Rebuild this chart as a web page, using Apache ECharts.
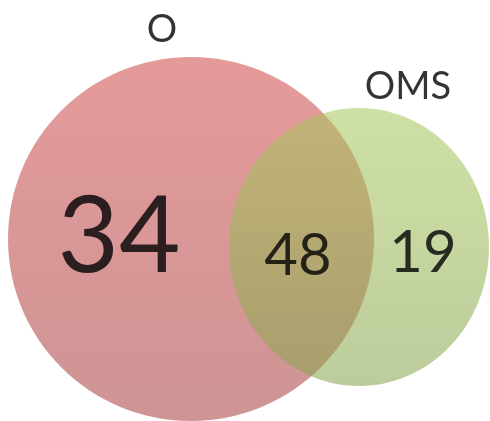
<!DOCTYPE html>
<html>
<head>
<meta charset="utf-8">
<script src="https://cdn.jsdelivr.net/npm/echarts@6/dist/echarts.min.js"></script>
<style>
  html, body { margin: 0; padding: 0; background: #ffffff; }
  #chart { width: 490px; height: 421px; }
</style>
</head>
<body>
<div id="chart"></div>
<script>
// Set names and region counts of the two-set Venn diagram
const setNames = ['O', 'OMS'];
const regionNames = ['O only', 'O and OMS', 'OMS only'];
const regionCounts = [34, 48, 19];

// Layout in plot units (x right, y down), one unit per pixel
const circleLayout = [
  { cx: 191, cy: 239, rx: 183, ry: 182 },
  { cx: 359, cy: 247, rx: 130, ry: 139 }
];
const setLabelPos = [[162, 30], [408, 87]];
const regionLabelPos = [[119, 238], [298, 256], [423, 253]];
const regionFontSize = [106, 58, 58];

const circleFills = [
  { top: 'rgb(229,154,154)', bottom: 'rgb(206,148,148)', opacity: 1 },
  { top: 'rgb(169,200,93)', bottom: 'rgb(135,164,78)', opacity: 0.56 }
];

const FONT = 'Lato, "Open Sans", sans-serif';

const chart = echarts.init(document.getElementById('chart'), null, { renderer: 'canvas' });

const circleData = setNames.map((n, i) => ({
  name: n,
  value: [circleLayout[i].cx, circleLayout[i].cy, circleLayout[i].rx, circleLayout[i].ry, i]
}));

const textStyle = {
  show: true,
  position: 'inside',
  color: '#000000',
  fontFamily: FONT,
  fontWeight: 'normal',
  textBorderWidth: 0,
  textShadowBlur: 0
};

chart.setOption({
  animation: false,
  backgroundColor: '#ffffff',
  grid: { left: 0, right: 0, top: 0, bottom: 0 },
  xAxis: { type: 'value', min: 0, max: 490, show: false },
  yAxis: { type: 'value', min: 0, max: 421, inverse: true, show: false },
  series: [
    {
      type: 'custom',
      name: 'sets',
      data: circleData,
      renderItem: function (params, api) {
        const c = api.coord([api.value(0), api.value(1)]);
        const s = api.size([api.value(2), api.value(3)]);
        const k = api.value(4);
        const f = circleFills[k];
        return {
          type: 'ellipse',
          shape: { cx: c[0], cy: c[1], rx: s[0], ry: s[1] },
          style: {
            fill: new echarts.graphic.LinearGradient(0, 0, 0, 1, [
              { offset: 0, color: f.top },
              { offset: 1, color: f.bottom }
            ]),
            opacity: f.opacity
          },
          z2: k
        };
      }
    },
    {
      type: 'scatter',
      name: 'setLabels',
      symbolSize: 0,
      z: 5,
      data: setNames.map((n, i) => ({ name: n, value: setLabelPos[i] })),
      label: Object.assign({}, textStyle, {
        formatter: p => p.name,
        fontSize: 38
      })
    },
    {
      type: 'scatter',
      name: 'regionCounts',
      symbolSize: 0,
      z: 5,
      data: regionCounts.map((v, i) => ({
        name: regionNames[i],
        value: [regionLabelPos[i][0], regionLabelPos[i][1], v],
        label: { fontSize: regionFontSize[i] }
      })),
      label: Object.assign({}, textStyle, {
        formatter: p => String(p.value[2])
      })
    }
  ]
});
</script>
</body>
</html>
